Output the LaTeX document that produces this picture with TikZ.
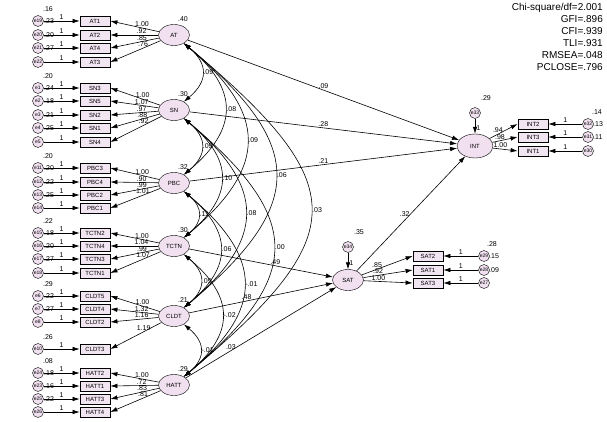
\documentclass[tikz,border=0pt]{standalone}
\usepackage{fontspec}
\setmainfont{Liberation Sans}
\usetikzlibrary{arrows.meta,shapes.geometric}
\tikzset{
 lat/.style={ellipse,draw,fill=violet!12,minimum width=31pt,minimum height=21pt,inner sep=0pt,font=\fontsize{6}{6}\selectfont},
 obs/.style={rectangle,draw,thick,fill=violet!10,minimum width=30pt,minimum height=10pt,inner sep=0pt,font=\fontsize{6}{6}\selectfont},
 err/.style={circle,draw,fill=violet!12,minimum size=11pt,inner sep=0pt,font=\fontsize{5}{5}\selectfont},
 lab/.style={font=\fontsize{7}{7}\selectfont,inner sep=1pt},
 pa/.style={-{Latex[length=7pt,width=4.5pt]},semithick},
 cov/.style={{Latex[length=7pt,width=4.5pt]}-{Latex[length=7pt,width=4.5pt]},semithick},
}
\newcommand\LInd[7]{%
 \node[obs] (#1) at (95,#2) {#1};
 \node[err] (#3) at (38,#2) {#3};
 \draw[pa] (#3) -- node[lab,above,pos=0.5]{1} (#1);
 \draw[pa] (#6) -- node[lab,above,pos=0.35]{#4} (#1.east);
 \node[lab,anchor=west] at (43,#2) {#5};
 \node[lab] at (48,{#2-12}) {#7};
}
\newcommand\RInd[8]{%
 \node[obs] (#1) at (#7,#2) {#1};
 \node[err] (#3) at (#8,#2) {#3};
 \draw[pa] (#3) -- node[lab,above,pos=0.5]{1} (#1);
 \draw[pa] (#6) -- node[lab,above,pos=0.3]{#4} (#1.west);
 \node[lab,anchor=west] at ({#8+4},#2) {#5};
}
\begin{document}
\begin{tikzpicture}[x=1pt,y=-1pt]
\useasboundingbox (0,0) rectangle (607,422);
\fill[white] (0,0) rectangle (607,422);
% latents
\node[lat] (AT) at (174,35) {AT};
\node[lat] (SN) at (174,110) {SN};
\node[lat] (PBC) at (174,183) {PBC};
\node[lat] (TCTN) at (174,246) {TCTN};
\node[lat] (CLDT) at (174,316) {CLDT};
\node[lat] (HATT) at (174,385) {HATT};
\node[lat,minimum width=36pt,minimum height=24pt] (INT) at (475,146) {INT};
\node[lat] (SAT) at (348,280) {SAT};
\node[lab] at (183,19) {.40};
\node[lab] at (183,94) {.30};
\node[lab] at (183,167) {.32};
\node[lab] at (183,230) {.30};
\node[lab] at (183,300) {.21};
\node[lab] at (183,369) {.29};
% AT
\LInd{AT1}{21}{e19}{1.00}{.23}{AT}{.16}
\LInd{AT2}{35}{e20}{.92}{.20}{AT}{}
\LInd{AT4}{48}{e21}{.85}{.27}{AT}{}
\LInd{AT3}{62}{e22}{.76}{}{AT}{}
% SN
\LInd{SN3}{88}{e1}{1.00}{.24}{SN}{.20}
\LInd{SN5}{101}{e2}{1.07}{.18}{SN}{}
\LInd{SN2}{115}{e3}{.97}{.21}{SN}{}
\LInd{SN1}{128}{e4}{.88}{.25}{SN}{}
\LInd{SN4}{142}{e5}{.92}{}{SN}{}
% PBC
\LInd{PBC3}{168}{e11}{1.00}{.20}{PBC}{.20}
\LInd{PBC4}{182}{e12}{.90}{.22}{PBC}{}
\LInd{PBC2}{195}{e13}{.99}{.25}{PBC}{}
\LInd{PBC1}{208}{e14}{1.01}{}{PBC}{}
% TCTN
\LInd{TCTN2}{233}{e15}{1.00}{.18}{TCTN}{.22}
\LInd{TCTN4}{246}{e16}{1.04}{.20}{TCTN}{}
\LInd{TCTN3}{259}{e17}{.99}{.27}{TCTN}{}
\LInd{TCTN1}{273}{e18}{1.07}{}{TCTN}{}
% CLDT
\LInd{CLDT5}{296}{e6}{1.00}{.22}{CLDT}{.29}
\LInd{CLDT4}{309}{e7}{1.32}{.27}{CLDT}{}
\LInd{CLDT2}{322}{e8}{1.16}{}{CLDT}{}
\LInd{CLDT3}{349}{e10}{1.19}{}{CLDT}{.26}
% HATT
\LInd{HATT2}{373}{e24}{1.00}{.18}{HATT}{.08}
\LInd{HATT1}{386}{e23}{.72}{.16}{HATT}{}
\LInd{HATT3}{399}{e25}{.83}{.22}{HATT}{}
\LInd{HATT4}{412}{e26}{.81}{}{HATT}{}
% INT
\RInd{INT2}{124}{e32}{.94}{.13}{INT}{533}{588}
\RInd{INT3}{137}{e31}{.98}{.11}{INT}{533}{588}
\RInd{INT1}{151}{e30}{1.00}{}{INT}{533}{588}
\node[lab] at (597,112) {.14};
\node[err] (e33) at (475,113) {e33};
\draw[pa] (e33) -- node[lab,right,pos=0.6]{1} (INT);
\node[lab] at (486,98) {.29};
% SAT
\RInd{SAT2}{256}{e29}{.85}{.15}{SAT}{428}{484}
\RInd{SAT1}{270}{e28}{.92}{.09}{SAT}{428}{484}
\RInd{SAT3}{283}{e27}{1.00}{}{SAT}{428}{484}
\node[lab] at (492,244) {.28};
\node[err] (e34) at (348,247) {e34};
\draw[pa] (e34) -- node[lab,right,pos=0.6]{1} (SAT);
\node[lab] at (359,232) {.35};
% structural paths
\draw[pa] (AT) -- node[lab,above,pos=0.5]{.09} (INT);
\draw[pa] (SN) -- node[lab,above,pos=0.5]{.28} (INT);
\draw[pa] (PBC) -- node[lab,above,pos=0.5]{.21} (INT);
\draw[pa] (SAT) -- node[lab,left,pos=0.5]{.32} (INT);
\draw[pa] (TCTN) -- node[lab,above,pos=0.6]{.49} (SAT);
\draw[pa] (CLDT) -- node[lab,above,pos=0.4]{.48} (SAT);
\draw[pa] (HATT) -- node[lab,above,pos=0.3]{.03} (SAT);
% covariances
\foreach \a/\b/\v/\l in {AT/SN/.09/1.4,SN/PBC/.09/1.4,PBC/TCTN/.11/1.4,TCTN/CLDT/.09/1.4,CLDT/HATT/-.01/1.4,
 AT/PBC/.08/1.4,SN/TCTN/.10/1.4,PBC/CLDT/.06/1.4,TCTN/HATT/-.02/1.4,
 AT/TCTN/.09/1.45,SN/CLDT/.08/1.45,PBC/HATT/-.01/1.45,
 AT/CLDT/.06/1.55,SN/HATT/.00/1.55,AT/HATT/.03/1.7}
 \draw[cov] (\a) to[out=-40,in=40,looseness=\l] node[lab,pos=0.5,right]{\v} (\b);
% fit
\node[font=\fontsize{10}{12}\selectfont,align=right,anchor=north east,inner sep=0pt] (fit) at (603,3)
 {Chi-square/df=2.001\\GFI=.896\\CFI=.939\\TLI=.931\\RMSEA=.048\\PCLOSE=.796};
\end{tikzpicture}
\end{document}
